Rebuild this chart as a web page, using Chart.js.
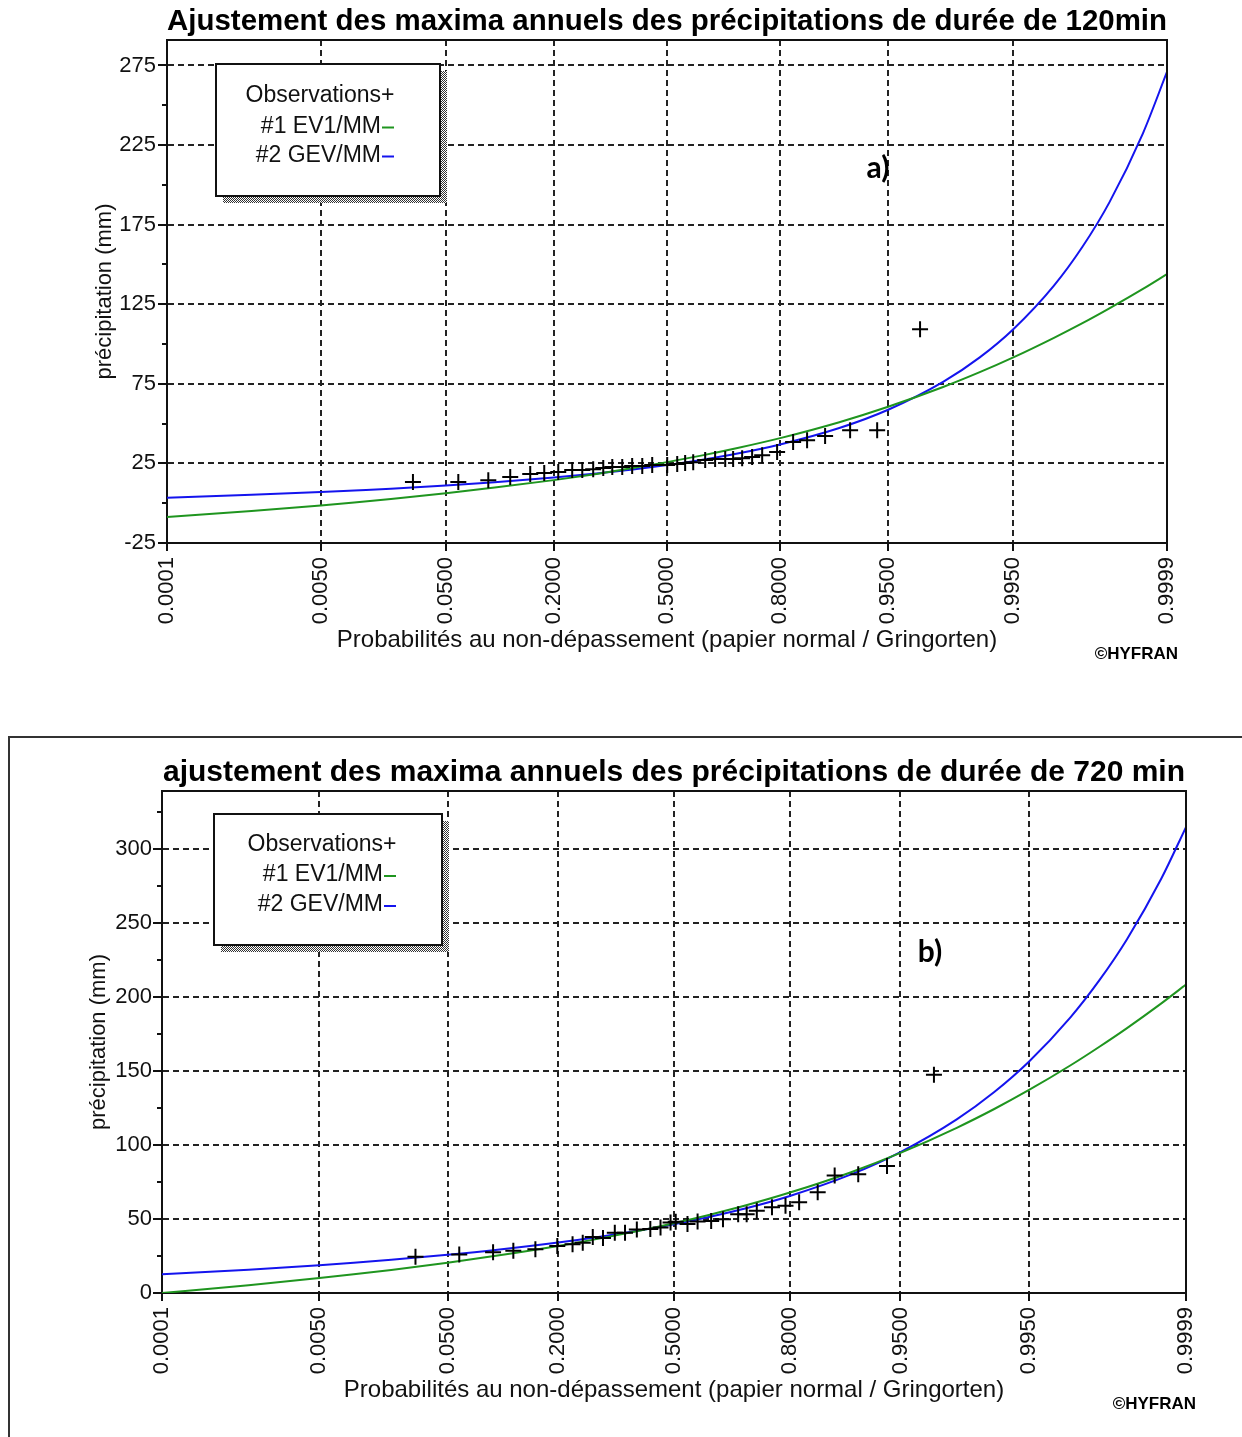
<!DOCTYPE html>
<html><head><meta charset="utf-8">
<script src="https://cdn.jsdelivr.net/npm/chart.js@4.4.1/dist/chart.umd.min.js"></script>
<style>
html,body{margin:0;padding:0;background:#fff;width:1242px;height:1437px;overflow:hidden;position:relative}
#ca{position:absolute;left:0;top:0}
#cb{position:absolute;left:0;top:740px}
#frame{position:absolute;left:8px;top:736px;width:1300px;height:800px;border-left:2px solid #333;border-top:2px solid #333}
</style></head><body>
<div id="frame"></div>
<canvas id="ca" width="1242" height="682"></canvas>
<canvas id="cb" width="1242" height="697"></canvas>
<script>
// ---------- data ----------
const xTickProbs  = [0.0001, 0.005, 0.05, 0.2, 0.5, 0.8, 0.95, 0.995, 0.9999];
const xTickLabels = ['0.0001','0.0050','0.0500','0.2000','0.5000','0.8000','0.9500','0.9950','0.9999'];

const curveProbs = [0.0001,0.001,0.005,0.01,0.02,0.05,0.1,0.2,0.3,0.4,0.5,0.6,0.7,0.8,0.9,0.95,0.98,0.99,0.995,0.998,0.999,0.9995,0.9998,0.9999];

// panel a : 120 min
const titleA = 'Ajustement des maxima annuels des précipitations de durée de 120min';
const yTicksA = [-25, 25, 75, 125, 175, 225, 275];
const yMinorA = [0, 50, 100, 150, 200, 250];
const obsProbA = [0.0294,0.0603,0.0919,0.1218,0.1545,0.1806,0.2093,0.2404,0.2643,0.2915,0.3177,0.3420,0.3696,0.3978,0.4270,0.4562,0.5006,0.5303,0.5537,0.5773,0.6118,0.6398,0.6675,0.6886,0.7119,0.7367,0.7605,0.7936,0.8259,0.8513,0.8802,0.9134,0.9410,0.9701];
const obsValA  = [13.3,13.3,14.5,16.4,18.3,18.9,19.6,20.8,20.8,21.4,22.1,22.7,22.7,23.3,23.3,24.0,24.0,24.6,25.2,25.8,27.1,27.7,27.7,27.7,28.3,29.0,30.2,32.1,38.4,39.6,42.2,45.9,45.9,109.3];
const ev1A = [-8.7,-4.9,-1.4,0.5,2.7,6.3,9.8,14.5,18.4,22.1,25.8,29.9,34.7,40.9,50.9,60.6,73.0,82.3,91.6,103.9,113.1,122.4,134.6,143.9];
const gevA = [3.5,5.3,7.0,8.0,9.1,11.1,13.2,16.1,18.7,21.2,24.0,27.2,31.2,36.9,47.2,58.7,76.2,91.6,109.3,136.7,161.1,189.0,232.4,271.0];

// panel b : 720 min
const titleB = 'ajustement des maxima annuels des précipitations de durée de 720 min';
const yTicksB = [0, 50, 100, 150, 200, 250, 300];
const yMinorB = [25, 75, 125, 175, 225, 275, 325];
const obsProbB = [0.0302,0.0594,0.0944,0.1216,0.1570,0.1983,0.2306,0.2537,0.2776,0.3030,0.3336,0.3610,0.3936,0.4317,0.4610,0.4900,0.5050,0.5390,0.5680,0.6064,0.6390,0.6794,0.7012,0.7262,0.7617,0.7910,0.8183,0.8517,0.8784,0.9096,0.9391,0.9705];
const obsValB  = [24.5,26.0,27.5,28.5,29.5,31.8,33.0,34.0,37.8,37.2,40.7,40.7,43.0,43.2,44.3,47.6,48.1,46.6,48.3,48.7,49.9,53.3,53.3,55.6,57.9,59.0,61.3,68.2,79.5,80.3,85.8,147.5];
const ev1B = [0.0,5.3,10.1,12.6,15.6,20.5,25.3,31.8,37.1,42.1,47.2,52.8,59.3,67.9,81.5,94.7,111.7,124.4,137.1,153.8,166.5,179.1,195.8,208.5];
const gevB = [12.6,15.8,18.8,20.5,22.5,25.8,29.2,34.1,38.2,42.2,46.5,51.4,57.3,65.6,80.0,95.3,117.4,135.9,156.2,186.2,211.5,239.2,280.2,315.0];

const seriesLabels = ['Observations', '#1 EV1/MM', '#2 GEV/MM'];
const xAxisTitle = 'Probabilités au non-dépassement (papier normal / Gringorten)';
const yAxisTitle = 'précipitation (mm)';
const credit = '©HYFRAN';

// ---------- normal probability paper (probit) ----------
function probit(p){
  const a=[-3.969683028665376e+01,2.209460984245205e+02,-2.759285104469687e+02,1.383577518672690e+02,-3.066479806614716e+01,2.506628277459239e+00];
  const b=[-5.447609879822406e+01,1.615858368580409e+02,-1.556989798598866e+02,6.680131188771972e+01,-1.328068155288572e+01];
  const c=[-7.784894002430293e-03,-3.223964580411365e-01,-2.400758277161838e+00,-2.549732539343734e+00,4.374664141464968e+00,2.938163982698783e+00];
  const d=[7.784695709041462e-03,3.224671290700398e-01,2.445134137142996e+00,3.754408661907416e+00];
  const pl=0.02425, ph=1-pl; let q,r;
  if(p<pl){q=Math.sqrt(-2*Math.log(p));return (((((c[0]*q+c[1])*q+c[2])*q+c[3])*q+c[4])*q+c[5])/((((d[0]*q+d[1])*q+d[2])*q+d[3])*q+1);}
  if(p<=ph){q=p-0.5;r=q*q;return (((((a[0]*r+a[1])*r+a[2])*r+a[3])*r+a[4])*r+a[5])*q/(((((b[0]*r+b[1])*r+b[2])*r+b[3])*r+b[4])*r+1);}
  q=Math.sqrt(-2*Math.log(1-p));return -(((((c[0]*q+c[1])*q+c[2])*q+c[3])*q+c[4])*q+c[5])/((((d[0]*q+d[1])*q+d[2])*q+d[3])*q+1);
}
const pts = (probs, vals) => probs.map((p,i)=>({x: probit(p), y: vals[i]}));

Chart.defaults.font.family = '"Liberation Sans", Arial, sans-serif';
Chart.defaults.color = '#000';

const GREEN = '#1f951f', BLUE = '#1414ee', GRID = '#222', AXIS = '#111';
const DASH = [6, 4];

let pat = null;
function shadowPattern(ctx){
  if (pat) return pat;
  const c = document.createElement('canvas'); c.width = 2; c.height = 2;
  const g = c.getContext('2d'); g.fillStyle = '#fff'; g.fillRect(0,0,2,2);
  g.fillStyle = '#333'; g.fillRect(0,0,1,1); g.fillRect(1,1,1,1);
  pat = ctx.createPattern(c, 'repeat'); return pat;
}

const decor = {
  id: 'decor',
  afterDraw(chart, args, o) {
    const {ctx, chartArea: a} = chart; const y = chart.scales.y;
    ctx.save();
    ctx.setLineDash([]);
    ctx.strokeStyle = AXIS; ctx.lineWidth = 2;
    ctx.beginPath(); ctx.moveTo(a.left, a.top); ctx.lineTo(a.right, a.top); ctx.lineTo(a.right, a.bottom); ctx.stroke();
    // minor y ticks
    ctx.lineWidth = 2; ctx.beginPath();
    o.minor.forEach(v => { const py = Math.round(y.getPixelForValue(v)); ctx.moveTo(a.left - 5, py); ctx.lineTo(a.left, py); });
    ctx.stroke();
    // legend box with shadow
    const L = o.legend;
    ctx.fillStyle = shadowPattern(ctx);
    ctx.fillRect(L.x + 7, L.y + L.h, L.w, 7);
    ctx.fillRect(L.x + L.w, L.y + 7, 7, L.h);
    ctx.fillStyle = '#fff'; ctx.fillRect(L.x, L.y, L.w, L.h);
    ctx.strokeStyle = AXIS; ctx.lineWidth = 2; ctx.strokeRect(L.x, L.y, L.w, L.h);
    ctx.font = '23px "Liberation Sans", Arial, sans-serif'; ctx.textBaseline = 'middle';
    chart.data.datasets.forEach((ds, i) => {
      const ty = L.y + L.rows[i];
      ctx.fillStyle = '#111'; ctx.textAlign = 'right';
      ctx.fillText(ds.label, L.tx, ty);
      if (!ds.showLine) { ctx.textAlign = 'left'; ctx.fillText('+', L.tx, ty); }
      else { ctx.strokeStyle = ds.borderColor; ctx.lineWidth = 2; ctx.beginPath(); ctx.moveTo(L.tx + 1, ty + 1); ctx.lineTo(L.tx + 13, ty + 1); ctx.stroke(); }
    });
    // panel letter
    ctx.fillStyle = '#000'; ctx.textAlign = 'center';
    ctx.font = 'bold 30px Lato, "Open Sans", sans-serif';
    ctx.fillText(o.letter.text, o.letter.x, o.letter.y);
    // credit
    ctx.font = 'bold 17px "Liberation Sans", Arial, sans-serif'; ctx.textAlign = 'right';
    ctx.fillText(credit, o.credit.x, o.credit.y);
    ctx.restore();
  }
};

function makeChart(id, c) {
  const nx = xTickProbs.length;
  return new Chart(document.getElementById(id), {
    type: 'scatter',
    data: { datasets: [
      { label: seriesLabels[0], data: pts(c.obsProb, c.obsVal), showLine: false, pointStyle: 'cross',
        pointRadius: 8, pointHoverRadius: 8, pointBorderWidth: 2, pointBorderColor: '#000', borderColor: '#000' },
      { label: seriesLabels[1], data: pts(curveProbs, c.ev1), showLine: true, borderColor: GREEN, borderWidth: 2,
        pointRadius: 0, pointHoverRadius: 0, cubicInterpolationMode: 'monotone' },
      { label: seriesLabels[2], data: pts(curveProbs, c.gev), showLine: true, borderColor: BLUE, borderWidth: 2,
        pointRadius: 0, pointHoverRadius: 0, cubicInterpolationMode: 'monotone' }
    ]},
    options: {
      responsive: false, animation: false, devicePixelRatio: 1, events: [],
      layout: { padding: c.pad },
      plugins: {
        legend: { display: false }, tooltip: { enabled: false },
        title: { display: true, text: c.title, fullSize: false, color: '#000',
                 font: { size: c.titleSize, weight: 'bold' }, padding: c.titlePad },
        decor: { minor: c.minor, legend: c.legend, letter: c.letter, credit: c.credit }
      },
      scales: {
        x: {
          type: 'linear', min: probit(xTickProbs[0]), max: probit(xTickProbs[nx-1]),
          afterBuildTicks: s => { s.ticks = xTickProbs.map(p => ({ value: probit(p) })); },
          afterFit: s => { s.height = 120; },
          ticks: { autoSkip: false, minRotation: 90, maxRotation: 90, padding: 6, color: '#111',
                   font: { size: 22 }, callback: (v, i) => xTickLabels[i] },
          grid: { color: ctx => (ctx.index === 0 || ctx.index === nx - 1) ? 'rgba(0,0,0,0)' : GRID,
                  lineWidth: 2, borderDash: DASH, tickColor: AXIS, tickLength: 8, tickBorderDash: [], tickWidth: 2 },
          border: { color: AXIS, width: 2, dash: DASH },
          title: { display: true, text: xAxisTitle, color: '#111', font: { size: 24 }, padding: { top: 0, bottom: 8.6 } }
        },
        y: {
          type: 'linear', min: c.yMin, max: c.yMax,
          afterBuildTicks: s => { s.ticks = c.yTicks.map(v => ({ value: v })); },
          afterFit: s => { s.width = c.yWidth; },
          ticks: { padding: c.yLabelPad, color: '#111', font: { size: 22 }, callback: v => String(v) },
          grid: { color: ctx => (ctx.tick && ctx.tick.value === c.yMin) ? 'rgba(0,0,0,0)' : GRID,
                  lineWidth: 2, borderDash: DASH, tickColor: AXIS, tickLength: 9, tickBorderDash: [], tickWidth: 2 },
          border: { color: AXIS, width: 2, dash: DASH },
          title: { display: true, text: yAxisTitle, color: '#111', font: { size: 22 }, padding: { top: 4, bottom: 0 } }
        }
      }
    },
    plugins: [decor]
  });
}

makeChart('ca', {
  title: titleA, titleSize: 29.5, titlePad: { top: 4, bottom: 0.6 },
  pad: { left: 88, right: 75, top: 0, bottom: 19 },
  yMin: -25, yMax: 291, yTicks: yTicksA, minor: yMinorA, yWidth: 79, yLabelPad: 2,
  obsProb: obsProbA, obsVal: obsValA, ev1: ev1A, gev: gevA,
  legend: { x: 216, y: 64, w: 224, h: 132, tx: 381, rows: [32, 62.5, 91.5] },
  letter: { text: 'a)', x: 878, y: 168 },
  credit: { x: 1178, y: 654 }
});

makeChart('cb', {
  title: titleB, titleSize: 30, titlePad: { top: 15, bottom: 0 },
  pad: { left: 82, right: 56, top: 0, bottom: 24 },
  yMin: 0, yMax: 339.4, yTicks: yTicksB, minor: yMinorB, yWidth: 80, yLabelPad: 1,
  obsProb: obsProbB, obsVal: obsValB, ev1: ev1B, gev: gevB,
  legend: { x: 214, y: 74, w: 228, h: 131, tx: 383, rows: [31, 61, 91] },
  letter: { text: 'b)', x: 930, y: 212 },
  credit: { x: 1196, y: 664 }
});
</script></body></html>
